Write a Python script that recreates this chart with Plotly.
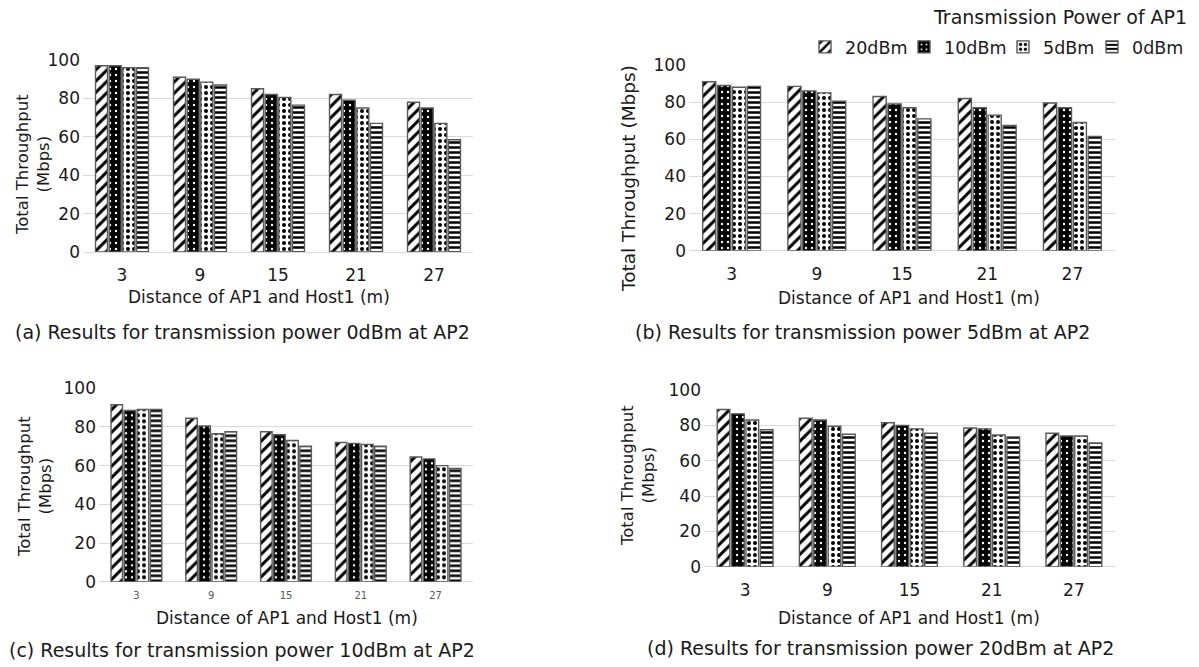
import plotly.graph_objects as go

# ---------------- data ----------------
distances = ["3", "9", "15", "21", "27"]
series_names = ["20dBm", "10dBm", "5dBm", "0dBm"]

a_20 = [97, 91, 85, 82, 78]
a_10 = [97, 90, 82, 79, 75]
a_5 = [96, 88.5, 80.5, 75, 67]
a_0 = [96, 87, 76.5, 67, 58.5]

b_20 = [91, 88.5, 83, 82, 79.5]
b_10 = [89, 86, 79, 77, 77]
b_5 = [88, 85, 77, 73, 69]
b_0 = [88.5, 80.5, 71, 67.5, 61.5]

c_20 = [91.5, 84.5, 77.5, 72, 64.5]
c_10 = [88.5, 80.5, 76, 71.5, 63.5]
c_5 = [89, 76.5, 73, 71, 60]
c_0 = [89, 77.5, 70, 70, 58.5]

d_20 = [89, 84, 81.5, 78.5, 75.5]
d_10 = [86.5, 83, 80, 78, 74]
d_5 = [83, 79.5, 78, 74.5, 74]
d_0 = [77.5, 75, 75.5, 73.5, 70]

y_ticks = [0, 20, 40, 60, 80, 100]
captions = [
    "(a) Results for transmission power 0dBm at AP2",
    "(b) Results for transmission power 5dBm at AP2",
    "(c) Results for transmission power 10dBm at AP2",
    "(d) Results for transmission power 20dBm at AP2",
]
x_title = "Distance of AP1 and Host1 (m)"
legend_title = "Transmission Power of AP1"

# ---------------- styling ----------------
W, H = 1199, 667
FONT = "DejaVu Sans"
TXT = "#1a1a1a"
GRID = "#d9d9d9"

patterns = [
    dict(shape="/", fgcolor="black", bgcolor="white", size=8, solidity=0.38, fillmode="replace"),
    dict(shape=".", fgcolor="white", bgcolor="black", size=6, solidity=0.12, fillmode="replace"),
    dict(shape=".", fgcolor="black", bgcolor="white", size=6, solidity=0.35, fillmode="replace"),
    dict(shape="-", fgcolor="black", bgcolor="white", size=5, solidity=0.5, fillmode="replace"),
]
base_colors = ["white", "black", "white", "white"]
legend_widths = [54, 54, 44, 62]

panels = [
    dict(data=[a_20, a_10, a_5, a_0], ax="", px=(83, 473), py=(60, 252)),
    dict(data=[b_20, b_10, b_5, b_0], ax="2", px=(689, 1115), py=(65, 250.7)),
    dict(data=[c_20, c_10, c_5, c_0], ax="3", px=(99, 473), py=(388.3, 581.7)),
    dict(data=[d_20, d_10, d_5, d_0], ax="4", px=(704, 1115), py=(390, 566.7)),
]

fig = go.Figure()
layout = {}
for pi, p in enumerate(panels):
    for si, vals in enumerate(p["data"]):
        fig.add_trace(go.Bar(
            x=distances, y=vals, name=series_names[si],
            xaxis="x" + p["ax"], yaxis="y" + p["ax"],
            marker=dict(color=base_colors[si], pattern=patterns[si],
                        line=dict(color="#5a5a5a", width=1.4)),
            showlegend=(pi == 0), legendgroup=series_names[si],
            legendwidth=legend_widths[si],
        ))
    x0, x1 = p["px"]
    y0, y1 = p["py"]
    small = (pi == 2)
    layout["xaxis" + p["ax"]] = dict(
        domain=[x0 / W, x1 / W], anchor="y" + p["ax"], type="category",
        showgrid=False, showline=False, ticks="", automargin=False,
        tickfont=dict(family=FONT, size=10 if small else 17, color="#595959" if small else TXT),
        ticklabelstandoff=6 if small else 11,
    )
    layout["yaxis" + p["ax"]] = dict(
        domain=[1 - y1 / H, 1 - y0 / H], anchor="x" + p["ax"], range=[0, 100],
        tickvals=y_ticks, showgrid=True, gridcolor=GRID, gridwidth=1.3,
        zeroline=True, zerolinecolor=GRID, zerolinewidth=1.3, automargin=False,
        showline=False, ticks="", tickfont=dict(family=FONT, size=17, color=TXT),
        ticklabelstandoff=2,
    )

ann = []
def add_text(txt, x, y, size, angle=0, color=TXT):
    ann.append(dict(text=txt, x=x / W, y=1 - y / H, xref="paper", yref="paper",
                    showarrow=False, textangle=angle, xanchor="center", yanchor="middle",
                    font=dict(family=FONT, size=size, color=color)))

# y axis titles
add_text("Total Throughput<br>(Mbps)", 33, 165, 16.5, -90)
add_text("Total Throughput (Mbps)", 628, 178, 18.5, -90)
add_text("Total Throughput<br>(Mbps)", 35, 487, 16.5, -90)
add_text("Total Throughput<br>(Mbps)", 638, 476, 16.5, -90)
# x axis titles
add_text(x_title, 259, 297, 17)
add_text(x_title, 909, 298, 17)
add_text(x_title, 287, 618, 17)
add_text(x_title, 909, 618, 17)
# captions
add_text(captions[0], 242, 332, 19)
add_text(captions[1], 862, 332, 19)
add_text(captions[2], 242, 650, 19)
add_text(captions[3], 880, 648, 19)
# legend title
add_text(legend_title, 1060, 17, 19)

fig.update_layout(
    width=W, height=H, margin=dict(l=0, r=0, t=0, b=0, autoexpand=False),
    paper_bgcolor="white", plot_bgcolor="white",
    barmode="group", bargap=0.3, bargroupgap=0.12,
    font=dict(family=FONT, color=TXT),
    legend=dict(orientation="h", xref="container", yref="container",
                x=805 / W, xanchor="left", y=1 - 47 / H, yanchor="middle",
                font=dict(family=FONT, size=17.5, color=TXT), itemwidth=30,
                entrywidthmode="pixels",
                tracegroupgap=0, borderwidth=0, bgcolor="rgba(0,0,0,0)"),
    annotations=ann,
    **layout,
)

fig.write_html("out.html", config={"displayModeBar": False},
               post_script="document.body.style.margin='0';document.body.style.overflow='hidden';")
